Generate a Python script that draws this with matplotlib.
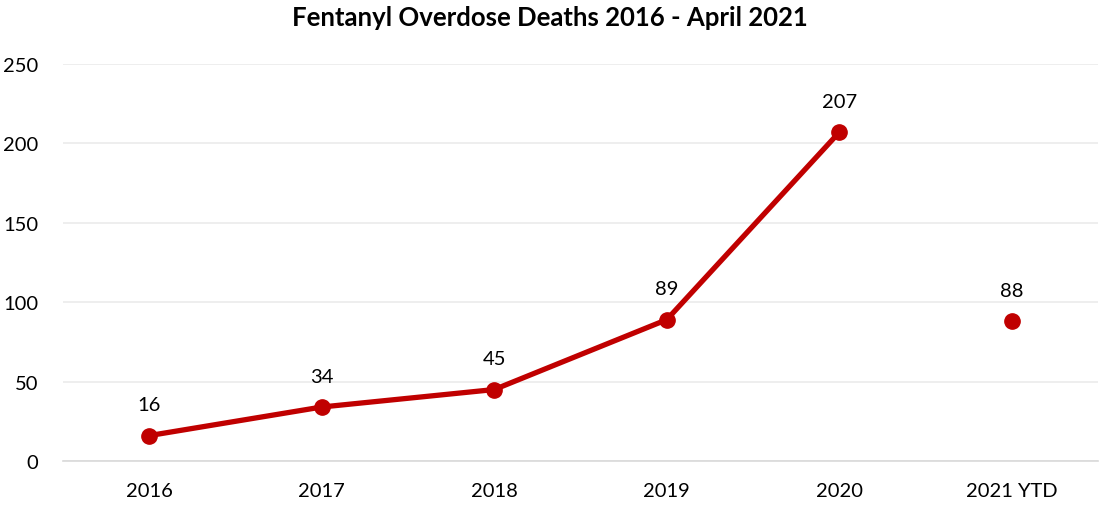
import matplotlib
matplotlib.use("Agg")
import matplotlib.pyplot as plt
import numpy as np

categories = ["2016", "2017", "2018", "2019", "2020", "2021 YTD"]
deaths = [16, 34, 45, 89, 207, 88]
line_count = 5  # 2021 YTD is shown as a standalone point
yticks = [0, 50, 100, 150, 200, 250]

red = "#C00000"
plt.rcParams["font.family"] = ["Lato", "DejaVu Sans"]

fig = plt.figure(figsize=(10.99, 5.06), dpi=100)
ax = fig.add_axes([63 / 1099, 1 - 462 / 506, (1098 - 63) / 1099, (462 - 65) / 506])

x = np.arange(len(categories))
ax.plot(x[:line_count], deaths[:line_count], color=red, lw=3.8,
        marker="o", ms=11, solid_capstyle="round", zorder=3)
ax.plot(x[line_count:], deaths[line_count:], ls="none", color=red,
        marker="o", ms=11, zorder=3)

for xi, v in zip(x, deaths):
    ax.annotate(str(v), (xi, v), xytext=(0, 16), textcoords="offset points",
                ha="center", va="bottom", fontsize=14.5, color="#000000")

ax.set_xlim(-0.5, len(categories) - 0.5)
ax.set_ylim(0, 250)
ax.set_yticks(yticks)
ax.set_xticks(x)
ax.set_xticklabels(categories)
ax.tick_params(axis="both", length=0, labelsize=14.5, colors="#000000")
ax.tick_params(axis="y", pad=18)
ax.tick_params(axis="x", pad=15)

ax.grid(axis="y", color="#EBEBEB", lw=1.2)
ax.set_axisbelow(True)
for side in ["top", "right", "left"]:
    ax.spines[side].set_visible(False)
ax.spines["bottom"].set_color("#D9D9D9")
ax.spines["bottom"].set_linewidth(1.2)

fig.text(0.5, 1 - 18 / 506, "Fentanyl Overdose Deaths 2016 - April 2021",
         ha="center", va="center", fontsize=18.5, fontweight="bold")

fig.savefig("out.png", dpi=100, facecolor="white")
